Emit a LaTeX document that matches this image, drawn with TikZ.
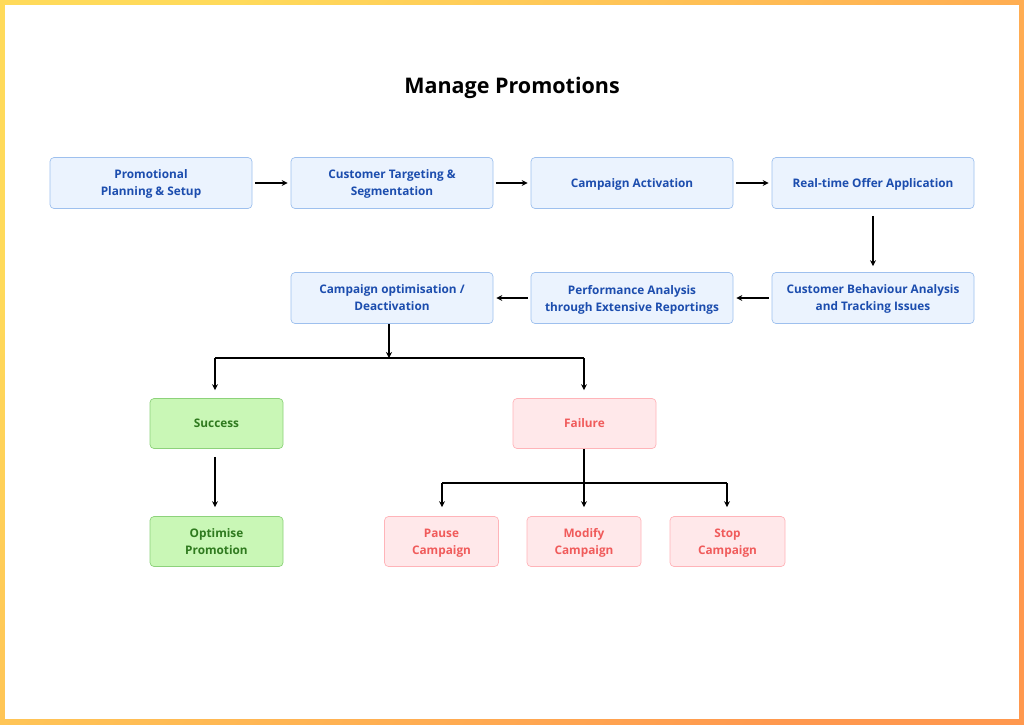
\documentclass[tikz,border=0pt]{standalone}
\usepackage{fontspec}
\setmainfont{Open Sans}
\usetikzlibrary{arrows.meta}
\definecolor{bfill}{HTML}{EBF3FE}
\definecolor{bdraw}{HTML}{9EC0EE}
\definecolor{btext}{HTML}{1C4DAE}
\definecolor{gfill}{HTML}{C9F7B6}
\definecolor{gdraw}{HTML}{8DD27B}
\definecolor{gtext}{HTML}{2F7A1F}
\definecolor{rfill}{HTML}{FFE8EA}
\definecolor{rdraw}{HTML}{FFB4B9}
\definecolor{rtext}{HTML}{F05B5B}
\definecolor{byel}{HTML}{FFDA5A}
\definecolor{bora}{HTML}{FF984E}
\tikzset{
  box/.style={draw, rounded corners=4pt, line width=0.7pt, align=center,
    font=\bfseries\fontsize{11.8}{17}\selectfont, inner sep=0pt, text depth=0pt},
  bluebox/.style={box, fill=bfill, draw=bdraw, text=btext, minimum width=202pt, minimum height=51pt},
  greenbox/.style={box, fill=gfill, draw=gdraw, text=gtext, minimum width=133pt, minimum height=50pt},
  redbox/.style={box, fill=rfill, draw=rdraw, text=rtext, minimum height=50pt},
  conn/.style={line width=1.4pt, -{Stealth[length=6pt,width=6pt]}},
  plain/.style={line width=1.4pt}
}
\begin{document}
\begin{tikzpicture}[x=1pt,y=-1pt]
\useasboundingbox (0,0) rectangle (1024,724);
\shade[top color=byel, bottom color=bora, shading angle=50] (0,0) rectangle (1024,724);
\fill[white] (5,5) rectangle (1019,719);
\node[font=\bfseries\fontsize{21.5}{26}\selectfont] (title) at (512,87.5) {Manage Promotions};

\node[bluebox] (a1) at (151,183) {Promotional\\Planning \& Setup};
\node[bluebox] (a2) at (392,183) {Customer Targeting \&\\Segmentation};
\node[bluebox] (a3) at (632,183) {Campaign Activation};
\node[bluebox] (a4) at (873,183) {Real-time Offer Application};
\node[bluebox] (b3) at (873,298) {Customer Behaviour Analysis\\and Tracking Issues};
\node[bluebox] (b2) at (632,298) {Performance Analysis\\through Extensive Reportings};
\node[bluebox] (b1) at (392,298) {Campaign optimisation /\\Deactivation};

\node[greenbox] (s) at (216.5,423.5) {Success};
\node[greenbox] (o) at (216.5,541.5) {Optimise\\Promotion};
\node[redbox, minimum width=143pt] (f) at (584.5,423.5) {Failure};
\node[redbox, minimum width=114pt] (p) at (441.5,541.5) {Pause\\Campaign};
\node[redbox, minimum width=114pt] (m) at (584,541.5) {Modify\\Campaign};
\node[redbox, minimum width=115pt] (st) at (727.5,541.5) {Stop\\Campaign};

\draw[conn, shorten <=3pt, shorten >=3pt] (a1) -- (a2);
\draw[conn, shorten <=3pt, shorten >=3pt] (a2) -- (a3);
\draw[conn, shorten <=3pt, shorten >=3pt] (a3) -- (a4);
\draw[conn, shorten <=7pt, shorten >=6pt] (a4) -- (b3);
\draw[conn, shorten <=3pt, shorten >=3pt] (b3) -- (b2);
\draw[conn, shorten <=3pt, shorten >=3pt] (b2) -- (b1);

\coordinate (j1) at (389,358);
\coordinate (jl) at (215,358);
\coordinate (jr) at (584,358);
\draw[conn] (b1.south -| j1) -- (j1);
\draw[plain] (jl) -- (jr);
\draw[conn, shorten >=8pt] (jl) -- (jl |- s.north);
\draw[conn, shorten >=8pt] (jr) -- (jr |- f.north);
\draw[conn, shorten <=8pt, shorten >=9pt] (s.south -| jl) -- (o.north -| jl);

\coordinate (j2) at (584,483);
\coordinate (j2l) at (442,483);
\coordinate (j2r) at (727,483);
\draw[plain] (f.south -| j2) -- (j2);
\draw[plain] (j2l) -- (j2r);
\draw[conn, shorten >=9pt] (j2l) -- (j2l |- p.north);
\draw[conn, shorten >=9pt] (j2) -- (j2 |- m.north);
\draw[conn, shorten >=9pt] (j2r) -- (j2r |- st.north);
\end{tikzpicture}
\end{document}
